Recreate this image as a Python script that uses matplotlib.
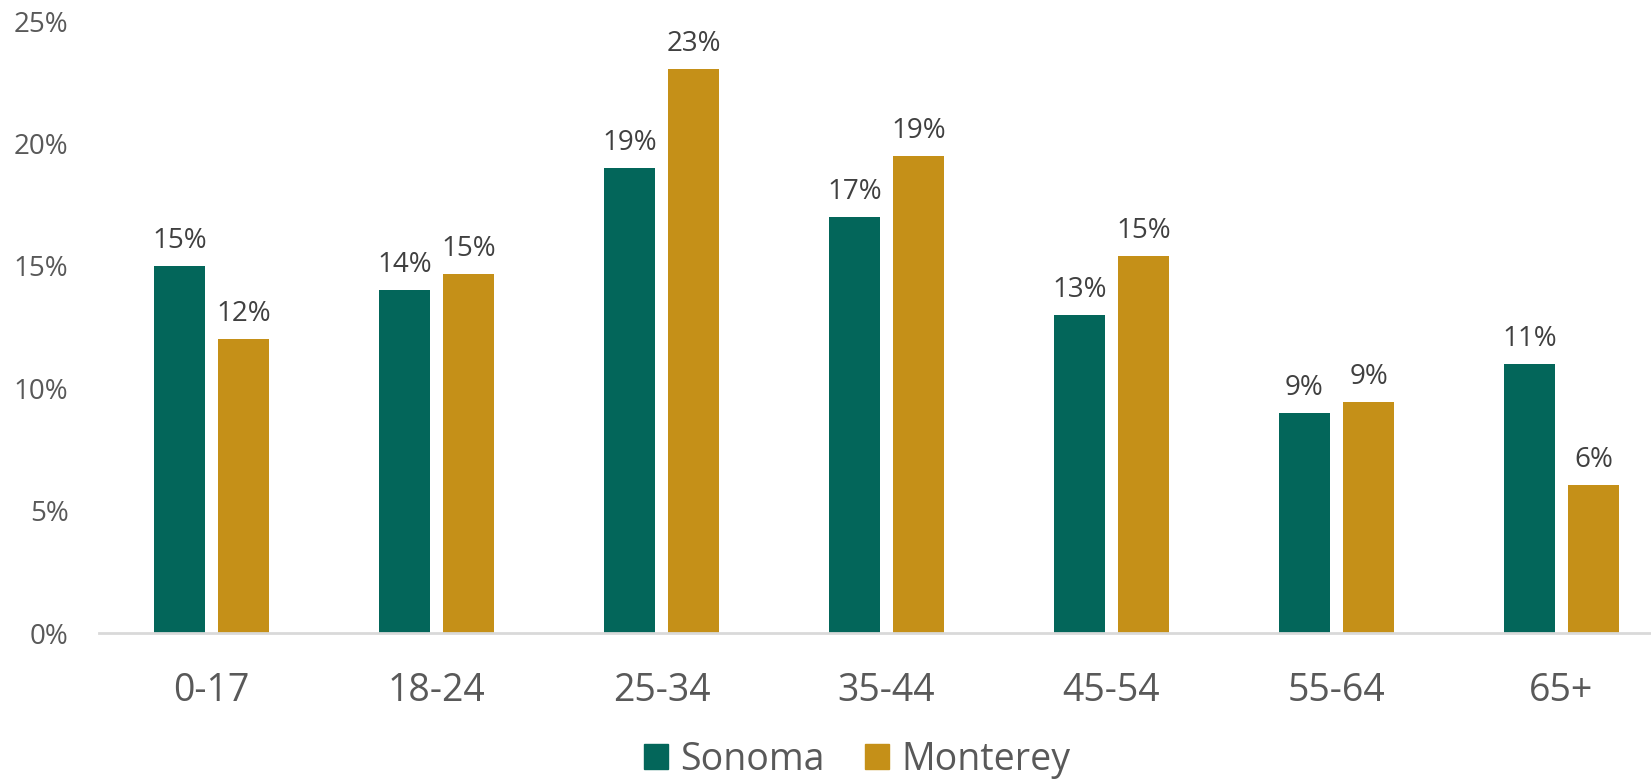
import numpy as np
import matplotlib
matplotlib.use('Agg')
import matplotlib.pyplot as plt
from matplotlib.patches import Patch

plt.rcParams['font.family'] = ['Open Sans', 'DejaVu Sans']

ages = ['0-17', '18-24', '25-34', '35-44', '45-54', '55-64', '65+']
sonoma = [15.0, 14.0, 19.0, 17.0, 13.0, 9.0, 11.0]
monterey = [12.0, 14.65, 23.05, 19.5, 15.4, 9.45, 6.05]
sonoma_labels = ['15%', '14%', '19%', '17%', '13%', '9%', '11%']
monterey_labels = ['12%', '15%', '23%', '19%', '15%', '9%', '6%']

GREEN = '#03665A'
GOLD = '#C59018'

fig = plt.figure(figsize=(16.51, 7.82), dpi=100)
ax = fig.add_axes([99 / 1651, 149 / 782, 1 - 99 / 1651, (633 - 21) / 782])

x = np.arange(len(ages))
w = 0.227
off = (w + 0.058) / 2
b1 = ax.bar(x - off, sonoma, w, color=GREEN)
b2 = ax.bar(x + off, monterey, w, color=GOLD)

# data labels above each bar
for bars, labels in [(b1, sonoma_labels), (b2, monterey_labels)]:
    for rect, lab in zip(bars, labels):
        ax.annotate(lab, (rect.get_x() + rect.get_width() / 2, rect.get_height()),
                    xytext=(0, 8), textcoords='offset points',
                    ha='center', va='bottom', fontsize=20, color='#404040')

ax.set_xlim(-0.5, 6.398)
ax.set_ylim(0, 25)
ax.set_yticks(range(0, 26, 5))
ax.set_yticklabels(['{}%'.format(v) for v in range(0, 26, 5)])
ax.set_xticks(x)
ax.set_xticklabels(ages)

for s in ['top', 'right', 'left']:
    ax.spines[s].set_visible(False)
ax.spines['bottom'].set_color('#D9D9D9')
ax.spines['bottom'].set_linewidth(2)

ax.tick_params(axis='y', length=0, labelsize=20, labelcolor='#595959', pad=22)
ax.tick_params(axis='x', length=0, labelsize=27, labelcolor='#595959', pad=28)

handles = [Patch(color=GREEN, label='Sonoma'), Patch(color=GOLD, label='Monterey')]
fig.legend(handles=handles, loc='center', bbox_to_anchor=(857 / 1651, 1 - 760 / 782),
           ncol=2, frameon=False, fontsize=27, labelcolor='#595959',
           handlelength=0.64, handleheight=0.64, handletextpad=0.32, columnspacing=1.1,
           borderpad=0, borderaxespad=0)

fig.savefig('out.png', dpi=100, facecolor='white')
